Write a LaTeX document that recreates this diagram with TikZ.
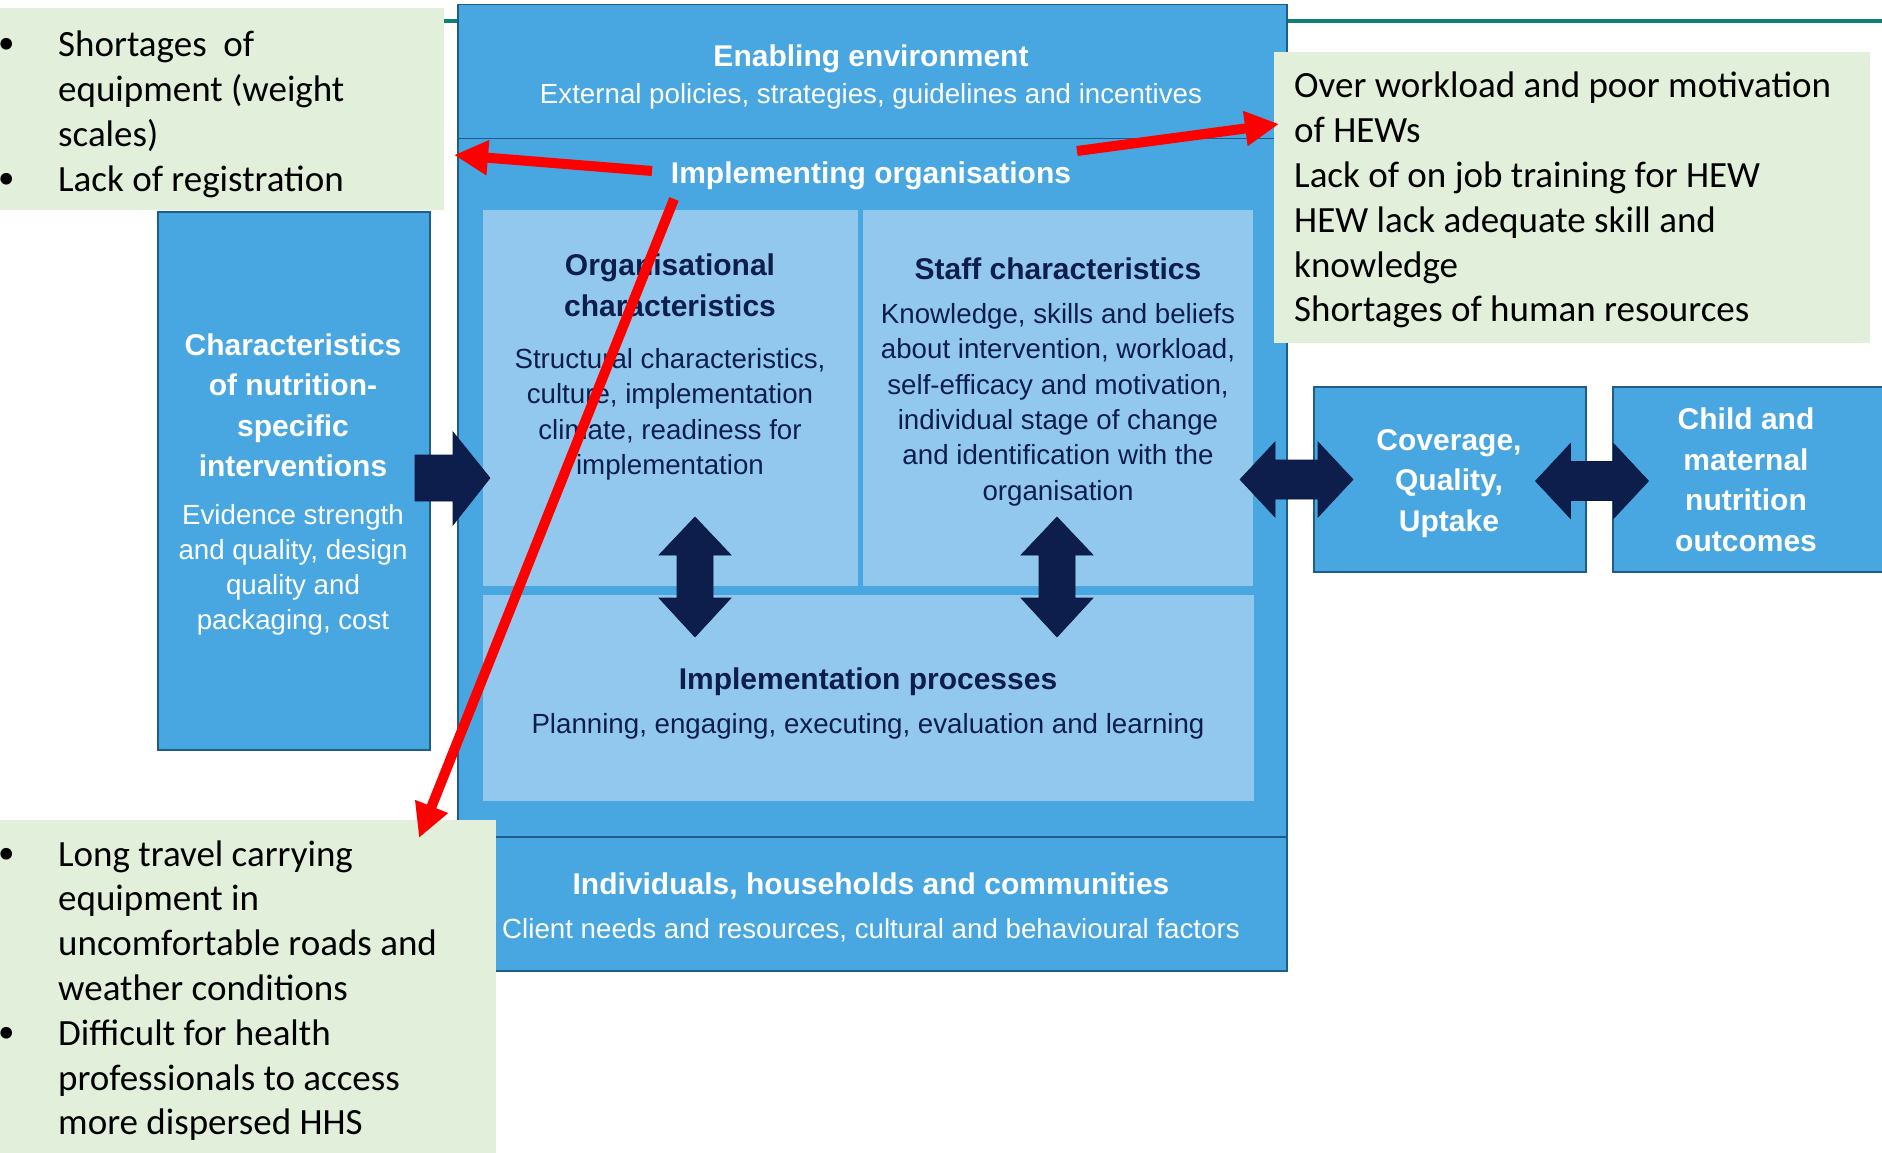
\documentclass[tikz,border=0pt]{standalone}
\usepackage{fontspec}
\setmainfont{Liberation Sans}
\newfontfamily\notefont{Carlito}
\usetikzlibrary{arrows.meta}

\definecolor{mainblue}{RGB}{72,166,225}
\definecolor{paleblue}{RGB}{147,200,238}
\definecolor{navy}{RGB}{13,30,76}
\definecolor{notegreen}{RGB}{226,239,218}
\definecolor{edgeblue}{RGB}{31,92,140}
\definecolor{rulerteal}{RGB}{18,128,120}
\definecolor{alertred}{RGB}{255,0,0}

\newcommand\dgtitle{\fontsize{30}{40.5}\selectfont\bfseries}
\newcommand\dgbody{\fontsize{27.7}{35.3}\selectfont}
\newcommand\notebullet{\hspace*{-2pt}\raisebox{2.5pt}{\fontsize{33}{33}\selectfont •}}

\tikzset{
  panel/.style={draw=edgeblue, line width=1.5pt, fill=mainblue, inner sep=0, anchor=north west},
  pane/.style={fill=paleblue, inner sep=0, anchor=north west},
  note/.style={fill=notegreen, inner sep=0, anchor=north west},
  lbl/.style={inner sep=0, anchor=base},
  notetext/.style={inner sep=0, anchor=base west},
  alert/.style={draw=alertred, line width=10pt, -{Triangle[length=34pt,width=33pt]}},
  blockarrow/.style={fill=navy, draw=navy!80!black, line width=0.6pt},
  dblh/.pic={\path[blockarrow] (-56.5,0) -- (-21.5,-37.5) -- (-21.5,-19.5) -- (21.5,-19.5) -- (21.5,-37.5)
      -- (56.5,0) -- (21.5,37.5) -- (21.5,19.5) -- (-21.5,19.5) -- (-21.5,37.5) -- cycle;},
  dblv/.pic={\path[blockarrow] (0,-60) -- (36,-22) -- (18,-22) -- (18,21) -- (36,21)
      -- (0,60) -- (-36,21) -- (-18,21) -- (-18,-22) -- (-36,-22) -- cycle;}
}

\begin{document}
\begin{tikzpicture}[x=1pt, y=-1pt]
\useasboundingbox (0,0) rectangle (1882,1153);
\fill[white] (0,0) rectangle (1882,1153);

% header rule
\draw[rulerteal, line width=4pt] (444,21) -- (1882,21);

% framework panels
\node[panel, minimum width=829pt, minimum height=134pt] (enabling) at (457,4) {};
\node[panel, minimum width=829pt, minimum height=698pt] (implementing) at (457,138) {};
\node[panel, minimum width=829pt, minimum height=134pt] (individuals) at (457,836) {};

\node[pane, minimum width=375pt, minimum height=376pt] (orgchar) at (483,210) {};
\node[pane, minimum width=390pt, minimum height=376pt] (staffchar) at (863,210) {};
\node[pane, minimum width=771pt, minimum height=206pt] (processes) at (483,595) {};

\node[panel, minimum width=272pt, minimum height=538pt] (intervention) at (157,211) {};
\node[panel, minimum width=272pt, minimum height=185pt] (coverage) at (1313,386) {};
\node[panel, minimum width=272pt, minimum height=185pt] (outcomes) at (1612,386) {};

% note boxes
\node[note, minimum width=444pt, minimum height=202pt] (noteA) at (0,8) {};
\node[note, minimum width=596pt, minimum height=291pt] (noteB) at (1274,52) {};
\node[note, minimum width=496pt, minimum height=333pt] (noteC) at (0,820) {};

% panel texts
\node[lbl, text=white] at (871,66.5) {\dgtitle Enabling environment};
\node[lbl, text=white] at (871,103.5) {\dgbody External policies, strategies, guidelines and incentives};
\node[lbl, text=white] (iolabel) at (871,183) {\dgtitle Implementing organisations};

\node[lbl, text=navy] at (670,275.5) {\dgtitle\begin{tabular}[t]{@{}c@{}}Organisational\\characteristics\end{tabular}};
\node[lbl, text=navy] at (670,368.5) {\dgbody\begin{tabular}[t]{@{}c@{}}Structural characteristics,\\culture, implementation\\climate, readiness for\\implementation\end{tabular}};

\node[lbl, text=navy] at (1058,279) {\dgtitle Staff characteristics};
\node[lbl, text=navy] at (1058,323.5) {\dgbody\begin{tabular}[t]{@{}c@{}}Knowledge, skills and beliefs\\about intervention, workload,\\self-efficacy and motivation,\\individual stage of change\\and identification with the\\organisation\end{tabular}};

\node[lbl, text=navy] at (868,689) {\dgtitle Implementation processes};
\node[lbl, text=navy] at (868,733.5) {\dgbody Planning, engaging, executing, evaluation and learning};

\node[lbl, text=white] at (871,894) {\dgtitle Individuals, households and communities};
\node[lbl, text=white] at (871,938) {\dgbody Client needs and resources, cultural and behavioural factors};

\node[lbl, text=white] at (293,355) {\dgtitle\begin{tabular}[t]{@{}c@{}}Characteristics\\of nutrition-\\specific\\interventions\end{tabular}};
\node[lbl, text=white] at (293,524) {\dgbody\begin{tabular}[t]{@{}c@{}}Evidence strength\\and quality, design\\quality and\\packaging, cost\end{tabular}};

\node[lbl, text=white] at (1449,450) {\dgtitle\begin{tabular}[t]{@{}c@{}}Coverage,\\Quality,\\Uptake\end{tabular}};
\node[lbl, text=white] at (1746,429.5) {\dgtitle\begin{tabular}[t]{@{}c@{}}Child and\\maternal\\nutrition\\outcomes\end{tabular}};

% note texts
\node[notetext] at (0,56.5) {\notefont\fontsize{37}{45}\selectfont
  \begin{tabular}[t]{@{}p{58pt}@{}l@{}}\notebullet&Shortages\ \ of\\&equipment (weight\\&scales)\\\notebullet&Lack of registration\end{tabular}};
\node[notetext] at (1294,97.5) {\notefont\fontsize{37}{44.9}\selectfont
  \begin{tabular}[t]{@{}l@{}}Over workload and poor motivation\\of HEWs\\Lack of on job training for HEW\\HEW lack adequate skill and\\knowledge\\Shortages of human resources\end{tabular}};
\node[notetext] at (0,866) {\notefont\fontsize{37}{44.8}\selectfont
  \begin{tabular}[t]{@{}p{58pt}@{}l@{}}\notebullet&Long travel carrying\\&equipment in\\&uncomfortable roads and\\&weather conditions\\\notebullet&Difficult for health\\&professionals to access\\&more dispersed HHS\end{tabular}};

% block arrows
\path[blockarrow] (415,455) -- (453,455) -- (453,432) -- (490,478) -- (453,525) -- (453,501) -- (415,501) -- cycle;
\pic at (695,577) {dblv};
\pic at (1057,577) {dblv};
\pic at (1296.5,479.5) {dblh};
\pic at (1592,481) {dblh};

% annotation arrows
\coordinate (ioW) at (652,171);
\coordinate (ioE) at (1077,151);
\coordinate (ioS) at (674,199);
\coordinate (tipA) at (454,155);
\coordinate (tipB) at (1279,124);
\coordinate (tipC) at (419,838);
\draw[alert] (ioW) -- (tipA);
\draw[alert] (ioE) -- (tipB);
\draw[alert] (ioS) -- (tipC);
\end{tikzpicture}
\end{document}
